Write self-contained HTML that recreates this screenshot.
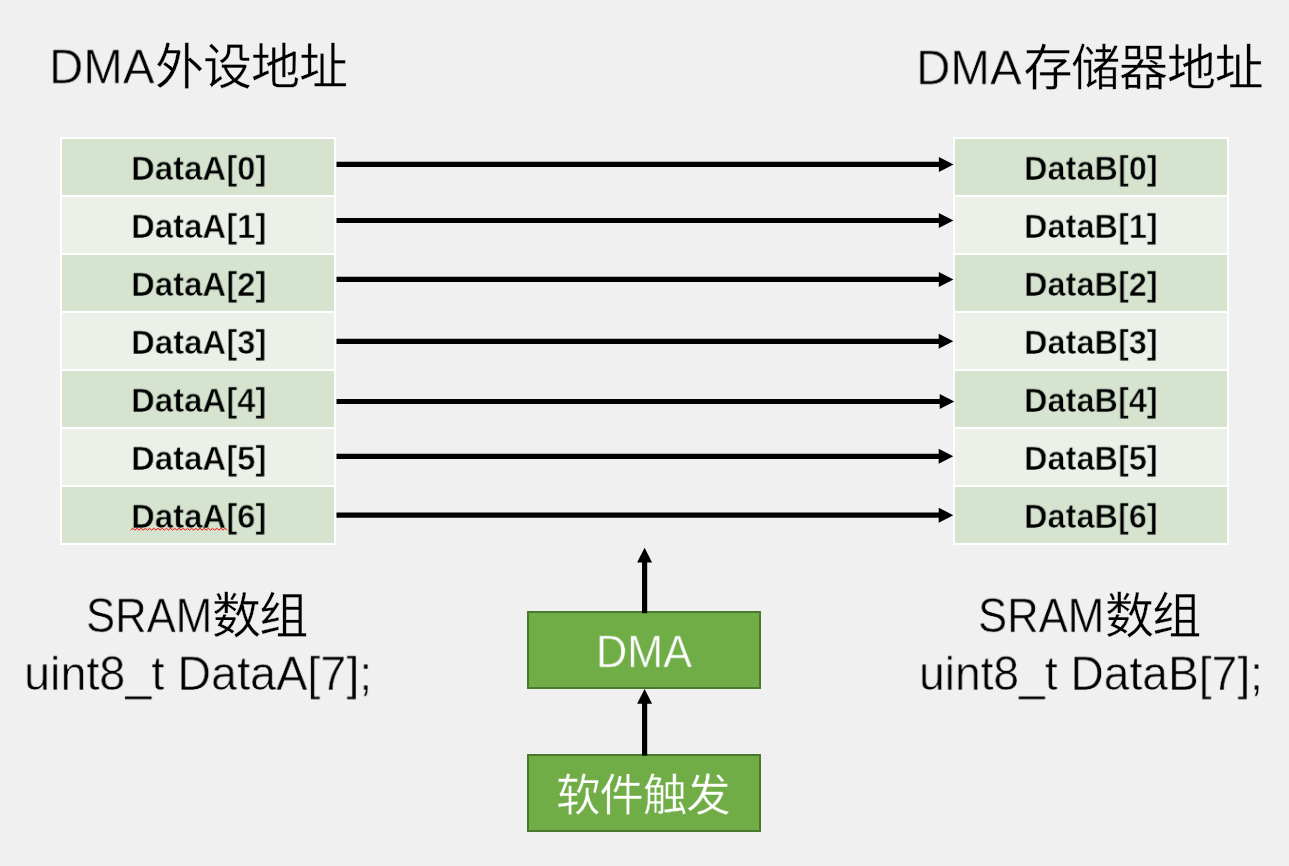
<!DOCTYPE html>
<html lang="zh-CN"><head><meta charset="utf-8"><title>DMA SRAM to SRAM transfer</title>
<style>
html,body{margin:0;padding:0;background:#f0f0f0}
body{width:1289px;height:866px;background:#f0f0f0;position:relative;overflow:hidden;font-family:"Liberation Sans",sans-serif;color:#000}
.mem{position:absolute;border-collapse:separate;border-spacing:2px;background:#fff;margin:0;padding:0;table-layout:fixed}
.mem td{position:relative;width:272px;height:56px;padding:0;font-weight:bold;line-height:1;white-space:nowrap;box-sizing:border-box}
.mem td span{position:absolute;display:block;transform-origin:0 0;will-change:transform}
.tdA td span{left:68.72px;top:12.21px;font-size:35px;transform:scale(0.9413,0.9650)}
.tdB td span{left:68.97px;top:12.21px;font-size:35px;transform:scale(0.9290,0.9650)}
.mem tr:nth-child(odd) td{background:#d5e3cf;-webkit-text-stroke:0.6px #d5e3cf}
.mem tr:nth-child(even) td{background:#ebf1e9;-webkit-text-stroke:0.6px #ebf1e9}
.box{position:absolute;box-sizing:border-box;background:#70ad47;border:2px solid #4a782d}
.g{margin:0;padding:0}
.ar{position:absolute;left:0;top:0;pointer-events:none}
.cj{position:absolute;overflow:visible}
.cj text{font-family:"Liberation Sans","Noto Sans CJK SC",sans-serif}
.t{position:absolute;white-space:pre;line-height:1;transform-origin:0 0;display:block;will-change:transform}
.lt{-webkit-text-stroke:0.6px #f0f0f0}
.wt{color:#fff;-webkit-text-stroke:0.55px #70ad47}
</style></head>
<body>

<!-- headings -->
<div class="g"><span class="t lt" style="left:48.66px;top:42.85px;font-size:50px;transform:scale(0.9500,0.9600)">DMA</span><svg class="cj" role="img" aria-label="外设地址" style="left:155.00px;top:41.20px" width="193.03" height="49.08" viewBox="0 0 193.03 49.08" fill="#000"><title>外设地址</title><text x="-0.01 47.99 95.99 143.99" y="43.11" font-size="49" fill="#000" stroke="#f0f0f0" stroke-width="0.35">外设地址</text></svg></div>
<div class="g"><span class="t lt" style="left:916.16px;top:43.65px;font-size:50px;transform:scale(0.9514,0.9600)">DMA</span><svg class="cj" role="img" aria-label="存储器地址" style="left:1022.60px;top:42.00px" width="240.82" height="48.98" viewBox="0 0 240.82 48.98" fill="#000"><title>存储器地址</title><text x="0.38 48.23 96.08 143.93 191.78" y="43.16" font-size="49" fill="#000" stroke="#f0f0f0" stroke-width="0.35">存储器地址</text></svg></div>
<!-- memory tables -->
<table class="mem tdA" style="left:60px;top:137px"><tbody><tr><td><span>DataA[0]</span></td></tr><tr><td><span>DataA[1]</span></td></tr><tr><td><span>DataA[2]</span></td></tr><tr><td><span>DataA[3]</span></td></tr><tr><td><span>DataA[4]</span></td></tr><tr><td><span>DataA[5]</span></td></tr><tr><td><span>DataA[6]</span></td></tr></tbody></table>
<table class="mem tdB" style="left:953px;top:137px"><tbody><tr><td><span>DataB[0]</span></td></tr><tr><td><span>DataB[1]</span></td></tr><tr><td><span>DataB[2]</span></td></tr><tr><td><span>DataB[3]</span></td></tr><tr><td><span>DataB[4]</span></td></tr><tr><td><span>DataB[5]</span></td></tr><tr><td><span>DataB[6]</span></td></tr></tbody></table>
<svg class="ar" width="1289" height="866" viewBox="0 0 1289 866" aria-hidden="true"><path d="M130.7 530.1L132.80 528.30L134.90 530.10L137.00 528.30L139.10 530.10L141.20 528.30L143.30 530.10L145.40 528.30L147.50 530.10L149.60 528.30L151.70 530.10L153.80 528.30L155.90 530.10L158.00 528.30L160.10 530.10L162.20 528.30L164.30 530.10L166.40 528.30L168.50 530.10L170.60 528.30L172.70 530.10L174.80 528.30L176.90 530.10L179.00 528.30L181.10 530.10L183.20 528.30L185.30 530.10L187.40 528.30L189.50 530.10L191.60 528.30L193.70 530.10L195.80 528.30L197.90 530.10L200.00 528.30L202.10 530.10L204.20 528.30L206.30 530.10L208.40 528.30L210.50 530.10L212.60 528.30L214.70 530.10L216.80 528.30L218.90 530.10L221.00 528.30L223.10 530.10L225.20 528.30L227.30 530.10" stroke="#ff0000" stroke-width="1" fill="none"/></svg>
<!-- DMA / trigger boxes -->
<div class="g"><div class="box" style="left:527px;top:611px;width:234px;height:78px"></div><span class="t wt" style="left:596.03px;top:628.87px;font-size:48px;transform:scale(0.8993,0.9550)">DMA</span></div>
<div class="g"><div class="box" style="left:527px;top:754px;width:234px;height:78px"></div><svg class="cj" role="img" aria-label="软件触发" style="left:556.40px;top:771.90px" width="175.00" height="44.89" viewBox="0 0 175.00 44.89" fill="#fff"><title>软件触发</title><text x="0.18 43.58 86.98 130.38" y="39.30" font-size="44.3" fill="#fff" stroke="#70ad47" stroke-width="0.35">软件触发</text></svg></div>
<!-- arrows -->
<svg class="ar" width="1289" height="866" viewBox="0 0 1289 866" aria-hidden="true"><path d="M336.5 164.45H939.9" stroke="#000" stroke-width="5.2" fill="none"/><path d="M938.9 156.95L953.5 164.45L938.9 171.95Z" fill="#000"/><path d="M336.5 220.5H939.8" stroke="#000" stroke-width="5.2" fill="none"/><path d="M938.8 213.0L953.4 220.5L938.8 228.0Z" fill="#000"/><path d="M336.5 279.4H939.8" stroke="#000" stroke-width="5.2" fill="none"/><path d="M938.8 271.9L953.4 279.4L938.8 286.9Z" fill="#000"/><path d="M336.5 341.3H939.7" stroke="#000" stroke-width="5.2" fill="none"/><path d="M938.7 333.8L953.3 341.3L938.7 348.8Z" fill="#000"/><path d="M336.5 401.5H940.7" stroke="#000" stroke-width="5.2" fill="none"/><path d="M939.7 394.0L954.3 401.5L939.7 409.0Z" fill="#000"/><path d="M336.5 456.3H939.7" stroke="#000" stroke-width="5.2" fill="none"/><path d="M938.7 448.8L953.3 456.3L938.7 463.8Z" fill="#000"/><path d="M336.5 515.2H939.7" stroke="#000" stroke-width="5.2" fill="none"/><path d="M938.7 507.70000000000005L953.3 515.2L938.7 522.7Z" fill="#000"/><path d="M644.6 561.6V613.2" stroke="#000" stroke-width="5.2" fill="none"/><path d="M637.1 562.6L644.6 547.7L652.1 562.6Z" fill="#000"/><path d="M644.6 702.7V755.6" stroke="#000" stroke-width="5.2" fill="none"/><path d="M637.1 703.7L644.6 689.0L652.1 703.7Z" fill="#000"/></svg>
<!-- captions -->
<div class="g"><span class="t lt" style="left:85.80px;top:591.82px;font-size:50px;transform:scale(0.8737,0.9550)">SRAM</span><svg class="cj" role="img" aria-label="数组" style="left:212.40px;top:589.85px" width="96.18" height="49.08" viewBox="0 0 96.18 49.08" fill="#000"><title>数组</title><text x="-0.06 47.24" y="43.11" font-size="49" fill="#000" stroke="#f0f0f0" stroke-width="0.35">数组</text></svg><span class="t lt" style="left:24.02px;top:649.86px;font-size:50px;transform:scale(0.9350,0.9500)">uint8_t DataA[7];</span></div>
<div class="g"><span class="t lt" style="left:977.90px;top:591.82px;font-size:50px;transform:scale(0.8737,0.9550)">SRAM</span><svg class="cj" role="img" aria-label="数组" style="left:1104.50px;top:589.85px" width="96.18" height="49.08" viewBox="0 0 96.18 49.08" fill="#000"><title>数组</title><text x="-0.06 47.24" y="43.11" font-size="49" fill="#000" stroke="#f0f0f0" stroke-width="0.35">数组</text></svg><span class="t lt" style="left:918.76px;top:649.86px;font-size:50px;transform:scale(0.9234,0.9500)">uint8_t DataB[7];</span></div>
</body></html>
